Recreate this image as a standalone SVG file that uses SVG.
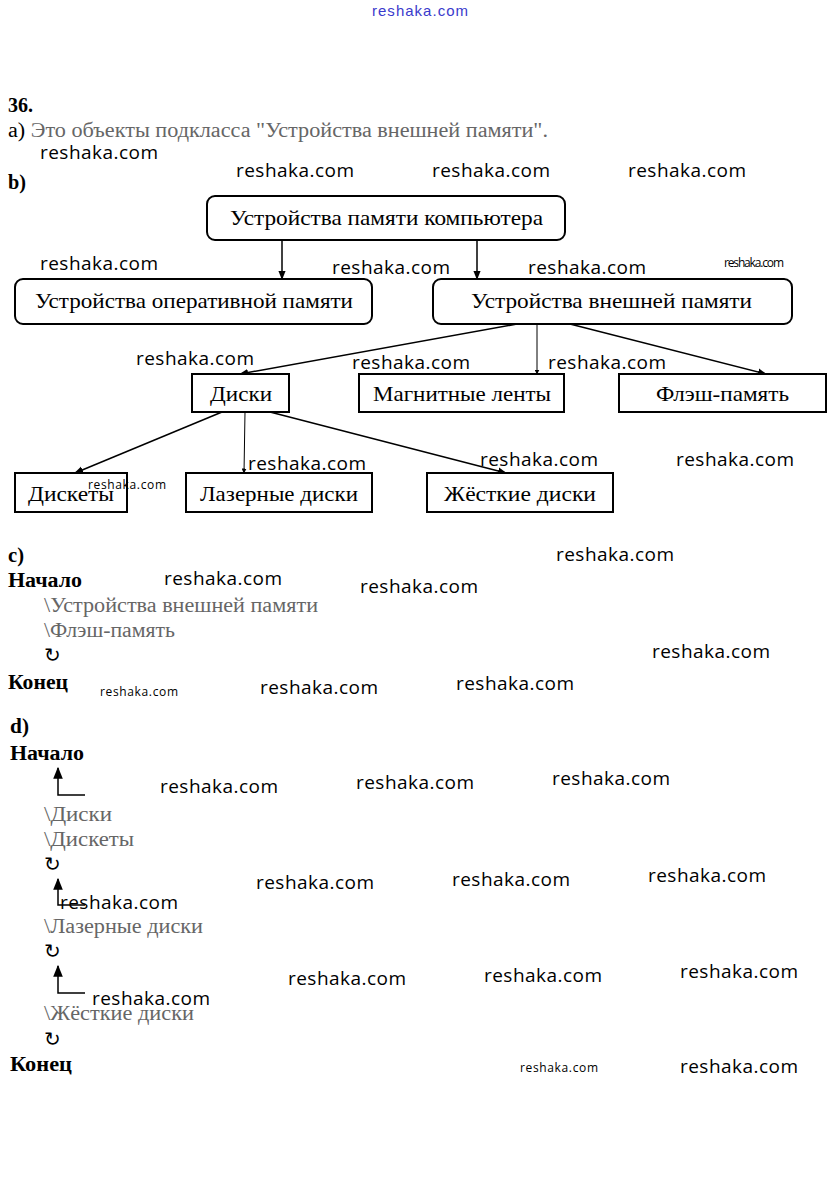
<svg xmlns="http://www.w3.org/2000/svg" width="838" height="1182" viewBox="0 0 838 1182">
<style>
.t{font-family:"Liberation Serif","Times New Roman",serif;font-size:20px;fill:#000}
.b{font-weight:bold}
.f{fill:#666}
.n{font-family:"Liberation Serif","Times New Roman",serif;font-size:21px;fill:#000}
.box{fill:#fff;stroke:#000;stroke-width:2}
.w{font-family:"Open Sans","Noto Sans",sans-serif;font-size:19px;fill:#000}
.ws{font-family:"Open Sans","Noto Sans",sans-serif;font-size:12px;fill:#000}
.c{stroke:#000;stroke-width:1.5;fill:none}
</style>
<defs>
<marker id="ah" viewBox="0 0 10 10" refX="9" refY="5" markerWidth="6" markerHeight="6" orient="auto" markerUnits="strokeWidth">
<path d="M0,1 L10,5 L0,9 z" fill="#000"/>
</marker>
<marker id="ahb" viewBox="0 0 10 10" refX="9" refY="5" markerWidth="5" markerHeight="5" orient="auto" markerUnits="strokeWidth">
<path d="M0,0 L10,5 L0,10 z" fill="#000"/>
</marker>
<marker id="ahu" viewBox="0 0 10 10" refX="9" refY="5" markerWidth="8" markerHeight="8" orient="auto" markerUnits="strokeWidth">
<path d="M0,1 L10,5 L0,9 z" fill="#000"/>
</marker>
</defs>
<rect width="838" height="1182" fill="#fff"/>

<text x="420" y="16" text-anchor="middle" font-family="'Liberation Sans Narrow','Liberation Sans',sans-serif" font-size="15" fill="#3a3acc" textLength="96">reshaka.com</text>

<g id="text-a">
<text class="t b" x="8" y="112" textLength="25" lengthAdjust="spacingAndGlyphs">36.</text>
<text class="t" x="8" y="137" textLength="540" lengthAdjust="spacingAndGlyphs">а) <tspan class="f">Это объекты подкласса "Устройства внешней памяти".</tspan></text>
<text class="t b" x="8" y="189" textLength="18" lengthAdjust="spacingAndGlyphs">b)</text>
</g>

<g id="connectors">
<line class="c" x1="282" y1="240" x2="282" y2="279" marker-end="url(#ah)"/>
<line class="c" x1="477" y1="240" x2="477" y2="279" marker-end="url(#ah)"/>
<line class="c" x1="517" y1="324" x2="240" y2="374" marker-end="url(#ah)"/>
<line x1="537" y1="324" x2="537" y2="374" stroke="#000" stroke-width="1" marker-end="url(#ahb)"/>
<line class="c" x1="570" y1="324" x2="766" y2="374" marker-end="url(#ah)"/>
<line class="c" x1="222" y1="412" x2="75" y2="473" marker-end="url(#ah)"/>
<line x1="245" y1="412" x2="244" y2="473" stroke="#000" stroke-width="1" marker-end="url(#ahb)"/>
<line class="c" x1="270" y1="412" x2="506" y2="473" marker-end="url(#ah)"/>
</g>

<g id="n-root"><rect class="box" x="207" y="196" width="358" height="44" rx="8"/><text class="n" x="230" y="225" textLength="313" lengthAdjust="spacingAndGlyphs">Устройства памяти компьютера</text></g>
<g id="n-ram"><rect class="box" x="15" y="279" width="357" height="45" rx="8"/><text class="n" x="35" y="308" textLength="318" lengthAdjust="spacingAndGlyphs">Устройства оперативной памяти</text></g>
<g id="n-ext"><rect class="box" x="433" y="279" width="359" height="45" rx="8"/><text class="n" x="471" y="308" textLength="281" lengthAdjust="spacingAndGlyphs">Устройства внешней памяти</text></g>
<g id="n-disks"><rect class="box" x="192" y="374" width="97" height="38"/><text class="n" x="210" y="401" textLength="62" lengthAdjust="spacingAndGlyphs">Диски</text></g>
<g id="n-tapes"><rect class="box" x="359" y="374" width="205" height="38"/><text class="n" x="373" y="401" textLength="178" lengthAdjust="spacingAndGlyphs">Магнитные ленты</text></g>
<g id="n-flash"><rect class="box" x="619" y="374" width="207" height="38"/><text class="n" x="656" y="401" textLength="133" lengthAdjust="spacingAndGlyphs">Флэш-память</text></g>
<g id="n-floppy"><rect class="box" x="15" y="473" width="112" height="39"/><text class="n" x="28" y="501" textLength="86" lengthAdjust="spacingAndGlyphs">Дискеты</text></g>
<g id="n-laser"><rect class="box" x="186" y="473" width="186" height="39"/><text class="n" x="200" y="501" textLength="158" lengthAdjust="spacingAndGlyphs">Лазерные диски</text></g>
<g id="n-hdd"><rect class="box" x="427" y="473" width="186" height="39"/><text class="n" x="444" y="501" textLength="152" lengthAdjust="spacingAndGlyphs">Жёсткие диски</text></g>

<g id="text-c">
<text class="t b" x="8" y="562" textLength="16" lengthAdjust="spacingAndGlyphs">с)</text>
<text class="t b" x="8" y="587" textLength="74" lengthAdjust="spacingAndGlyphs">Начало</text>
<text class="t f" x="44" y="612" textLength="274" lengthAdjust="spacingAndGlyphs">\Устройства внешней памяти</text>
<text class="t f" x="44" y="637" textLength="131" lengthAdjust="spacingAndGlyphs">\Флэш-память</text>
<text class="t" x="44" y="662" fill="#444">↻</text>
<text class="t b" x="8" y="689" textLength="60" lengthAdjust="spacingAndGlyphs">Конец</text>
</g>

<g id="text-d">
<text class="t b" x="10" y="733" textLength="19" lengthAdjust="spacingAndGlyphs">d)</text>
<text class="t b" x="10" y="760" textLength="74" lengthAdjust="spacingAndGlyphs">Начало</text>
<path d="M85,795 H58 V768" stroke="#000" stroke-width="1.5" fill="none" marker-end="url(#ahu)"/>
<text class="t f" x="44" y="821" textLength="68" lengthAdjust="spacingAndGlyphs">\Диски</text>
<text class="t f" x="44" y="846" textLength="90" lengthAdjust="spacingAndGlyphs">\Дискеты</text>
<text class="t" x="44" y="871" fill="#444">↻</text>
<path d="M85,905 H58 V879" stroke="#000" stroke-width="1.5" fill="none" marker-end="url(#ahu)"/>
<text class="t f" x="44" y="933" textLength="159" lengthAdjust="spacingAndGlyphs">\Лазерные диски</text>
<text class="t" x="44" y="958" fill="#444">↻</text>
<path d="M85,993 H58 V966" stroke="#000" stroke-width="1.5" fill="none" marker-end="url(#ahu)"/>
<text class="t f" x="44" y="1020" textLength="150" lengthAdjust="spacingAndGlyphs">\Жёсткие диски</text>
<text class="t" x="44" y="1046" fill="#444">↻</text>
<text class="t b" x="10" y="1071" textLength="62" lengthAdjust="spacingAndGlyphs">Конец</text>
</g>

<g id="watermarks">
<text class="w" x="40" y="159" textLength="118">reshaka.com</text>
<text class="w" x="236" y="177" textLength="118">reshaka.com</text>
<text class="w" x="432" y="177" textLength="118">reshaka.com</text>
<text class="w" x="628" y="177" textLength="118">reshaka.com</text>
<text class="w" x="40" y="270" textLength="118">reshaka.com</text>
<text class="w" x="332" y="274" textLength="118">reshaka.com</text>
<text class="w" x="528" y="274" textLength="118">reshaka.com</text>
<text class="ws" x="724" y="267" font-size="10" textLength="60">reshaka.com</text>
<text class="w" x="136" y="365" textLength="118">reshaka.com</text>
<text class="w" x="352" y="369" textLength="118">reshaka.com</text>
<text class="w" x="548" y="369" textLength="118">reshaka.com</text>
<text class="ws" x="88" y="489" textLength="78">reshaka.com</text>
<text class="w" x="248" y="470" textLength="118">reshaka.com</text>
<text class="w" x="480" y="466" textLength="118">reshaka.com</text>
<text class="w" x="676" y="466" textLength="118">reshaka.com</text>
<text class="w" x="556" y="561" textLength="118">reshaka.com</text>
<text class="w" x="164" y="585" textLength="118">reshaka.com</text>
<text class="w" x="360" y="593" textLength="118">reshaka.com</text>
<text class="w" x="652" y="658" textLength="118">reshaka.com</text>
<text class="ws" x="100" y="696" textLength="78">reshaka.com</text>
<text class="w" x="260" y="694" textLength="118">reshaka.com</text>
<text class="w" x="456" y="690" textLength="118">reshaka.com</text>
<text class="w" x="160" y="793" textLength="118">reshaka.com</text>
<text class="w" x="356" y="789" textLength="118">reshaka.com</text>
<text class="w" x="552" y="785" textLength="118">reshaka.com</text>
<text class="w" x="60" y="909" textLength="118">reshaka.com</text>
<text class="w" x="256" y="889" textLength="118">reshaka.com</text>
<text class="w" x="452" y="886" textLength="118">reshaka.com</text>
<text class="w" x="648" y="882" textLength="118">reshaka.com</text>
<text class="w" x="288" y="985" textLength="118">reshaka.com</text>
<text class="w" x="484" y="982" textLength="118">reshaka.com</text>
<text class="w" x="680" y="978" textLength="118">reshaka.com</text>
<text class="w" x="92" y="1005" textLength="118">reshaka.com</text>
<text class="ws" x="520" y="1072" textLength="78">reshaka.com</text>
<text class="w" x="680" y="1073" textLength="118">reshaka.com</text>
</g>
</svg>
